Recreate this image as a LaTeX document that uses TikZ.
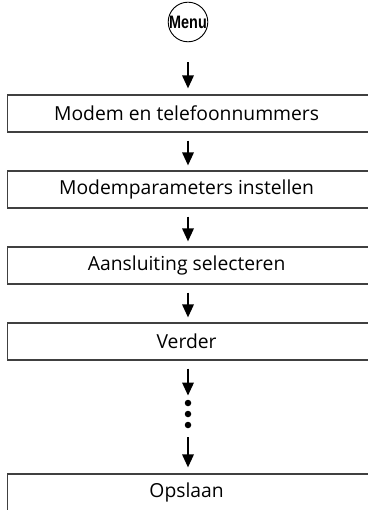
\documentclass[tikz,border=0pt]{standalone}
\usepackage{fontspec}
\setmainfont{Open Sans}
\newfontfamily\menufont[FakeStretch=0.8]{Liberation Sans}
\usetikzlibrary{arrows.meta}
\tikzset{
  stepbox/.style={draw=black!75, line width=1.2pt, minimum width=368pt, minimum height=37pt, inner sep=0pt, anchor=west, font=\fontsize{19.3}{19.3}\selectfont},
  flow/.style={-{Triangle[width=11.5pt,length=13pt]}, line width=1.8pt},
  stepdot/.style={circle, fill, inner sep=0pt, minimum size=6.5pt}
}
\begin{document}
\begin{tikzpicture}[x=1pt, y=-1pt]
    \useasboundingbox (0,0) rectangle (367,510);

    \node[circle, draw, line width=0.9pt, minimum size=36pt, inner sep=0pt, font=\menufont\bfseries\fontsize{18}{18}\selectfont] (menu) at (188,22) {Menu};

    \foreach \t [count=\i] in {Modem en telefoonnummers, Modemparameters instellen, Aansluiting selecteren, Verder} {
        \node[stepbox] (b\i) at (7,{113.5+76*(\i-1)}) {\hspace*{-10pt}\t};
    }
    \node[stepbox] (b5) at (7,492.5) {\hspace*{-10pt}Opslaan};

    \foreach \y [count=\i] in {403,414,425} {
        \node[stepdot] (d\i) at (188,\y) {};
    }

    \draw[flow, shorten <=20pt, shorten >=6pt] (menu) -- (b1.north -| menu);
    \foreach \a/\b in {1/2, 2/3, 3/4} {
        \draw[flow, shorten <=8pt, shorten >=5pt] (b\a.south -| menu) -- (b\b.north -| menu);
    }
    \draw[flow, shorten <=8pt, shorten >=4pt] (b4.south -| menu) -- (d1);
    \draw[flow, shorten <=9pt, shorten >=6pt] (d3) -- (b5.north -| menu);

\end{tikzpicture}
\end{document}
